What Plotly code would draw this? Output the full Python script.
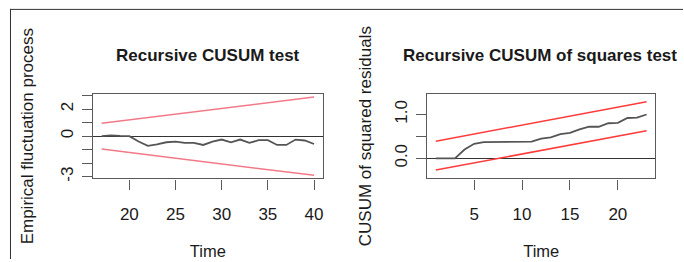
import plotly.graph_objects as go

# ---- Left panel: Recursive CUSUM test ----
cusum_time = list(range(17, 41))
cusum_process = [0.0, 0.06, 0.02, 0.0, -0.4, -0.72, -0.6, -0.45, -0.4, -0.5, -0.5, -0.65,
                 -0.4, -0.25, -0.45, -0.25, -0.5, -0.3, -0.3, -0.65, -0.65, -0.25, -0.32, -0.58]
cusum_bound_time = [17, 40]
cusum_upper = [0.95, 2.9]
cusum_lower = [-0.95, -2.9]

# ---- Right panel: Recursive CUSUM of squares test ----
sq_time = list(range(1, 24))
sq_process = [0.0, 0.0, 0.0, 0.2, 0.33, 0.37, 0.37, 0.38, 0.38, 0.38, 0.38, 0.45,
              0.48, 0.55, 0.58, 0.66, 0.72, 0.72, 0.8, 0.81, 0.92, 0.93, 1.0]
sq_bound_time = [1, 23]
sq_upper = [0.39, 1.29]
sq_lower = [-0.27, 0.63]

left_xticks = [20, 25, 30, 35, 40]
left_yticks = [-3, -2, -1, 0, 1, 2, 3]
left_yticktext = ["-3", "", "", "0", "", "2", ""]
right_xticks = [5, 10, 15, 20]
right_yticks = [0.0, 0.5, 1.0]
right_yticktext = ["0.0", "", "1.0"]

W, H = 684, 262
FONT = "Liberation Sans, Arial, sans-serif"
TXT = "#1a1a1a"
BOX = "#5a5a5a"
PINK = "#f27a88"
RED = "#ff3b3b"
PROC = "#555555"

fig = go.Figure()
fig.add_trace(go.Scatter(x=cusum_bound_time, y=cusum_upper, mode="lines",
                         line=dict(color=PINK, width=1.5), xaxis="x", yaxis="y", showlegend=False))
fig.add_trace(go.Scatter(x=cusum_bound_time, y=cusum_lower, mode="lines",
                         line=dict(color=PINK, width=1.5), xaxis="x", yaxis="y", showlegend=False))
fig.add_trace(go.Scatter(x=cusum_time, y=cusum_process, mode="lines",
                         line=dict(color=PROC, width=1.8), xaxis="x", yaxis="y", showlegend=False))

fig.add_trace(go.Scatter(x=sq_bound_time, y=sq_upper, mode="lines",
                         line=dict(color=RED, width=1.5), xaxis="x2", yaxis="y2", showlegend=False))
fig.add_trace(go.Scatter(x=sq_bound_time, y=sq_lower, mode="lines",
                         line=dict(color=RED, width=1.5), xaxis="x2", yaxis="y2", showlegend=False))
fig.add_trace(go.Scatter(x=sq_time, y=sq_process, mode="lines",
                         line=dict(color=PROC, width=1.8), xaxis="x2", yaxis="y2", showlegend=False))

ydom = [1 - 180.5 / H, 1 - 95 / H]
common_axis = dict(showline=True, mirror=True, linecolor=BOX, linewidth=1.2,
                   ticks="outside", ticklen=10, tickcolor=BOX, tickwidth=1.2,
                   showgrid=False, tickfont=dict(family=FONT, size=17, color=TXT))

fig.update_layout(
    width=W, height=H, margin=dict(l=0, r=0, t=0, b=0),
    paper_bgcolor="white", plot_bgcolor="white",
    font=dict(family=FONT, color=TXT),
    xaxis=dict(domain=[93.3 / W, 323 / W], range=[16.08, 40.92], anchor="y",
               tickvals=left_xticks, zeroline=False, ticklabelstandoff=10,
               title=dict(text="Time", font=dict(size=16.5), standoff=22), **common_axis),
    yaxis=dict(domain=ydom, range=[-3.13, 3.13], anchor="x",
               tickvals=left_yticks, ticktext=left_yticktext, tickangle=-90,
               zeroline=True, zerolinecolor="#333333", zerolinewidth=1, ticklabelstandoff=2,
               title=dict(text="Empirical fluctuation process", font=dict(size=17), standoff=20),
               **common_axis),
    xaxis2=dict(domain=[428 / W, 656 / W], range=[0.12, 23.88], anchor="y2",
                tickvals=right_xticks, zeroline=False, ticklabelstandoff=10,
                title=dict(text="Time", font=dict(size=16.5), standoff=22), **common_axis),
    yaxis2=dict(domain=ydom, range=[-0.46, 1.47], anchor="x2",
                tickvals=right_yticks, ticktext=right_yticktext, tickangle=-90,
                zeroline=True, zerolinecolor="#333333", zerolinewidth=1, ticklabelstandoff=2,
                title=dict(text="CUSUM of squared residuals", font=dict(size=17), standoff=16),
                **common_axis),
    annotations=[
        dict(text="<b>Recursive CUSUM test</b>", x=208 / W, y=1 - 56 / H, xref="paper", yref="paper",
             xanchor="center", yanchor="middle", showarrow=False,
             font=dict(family=FONT, size=17, color=TXT)),
        dict(text="<b>Recursive CUSUM of squares test</b>", x=541 / W, y=1 - 56 / H, xref="paper",
             yref="paper", xanchor="center", yanchor="middle", showarrow=False,
             font=dict(family=FONT, size=17, color=TXT)),
    ],
    shapes=[
        dict(type="line", xref="paper", yref="paper", x0=10 / W, x1=1, y0=1 - 9.5 / H, y1=1 - 9.5 / H,
             line=dict(color="#333333", width=1)),
        dict(type="line", xref="paper", yref="paper", x0=10.5 / W, x1=10.5 / W, y0=0, y1=1 - 9 / H,
             line=dict(color="#333333", width=1)),
    ],
)

fig.write_html("out.html", config={"displayModeBar": False},
               post_script="document.body.style.margin='0';document.body.style.padding='0';"
                           "document.body.style.overflow='hidden';")
